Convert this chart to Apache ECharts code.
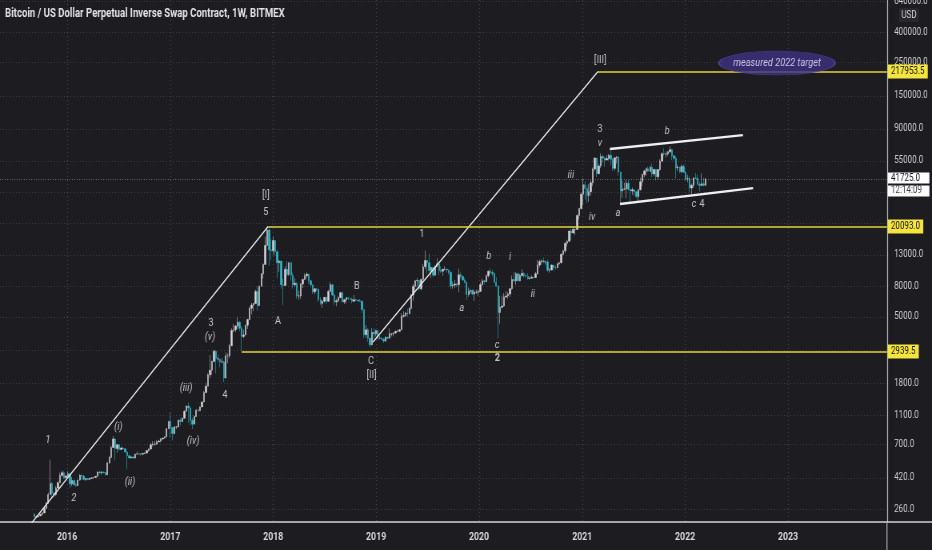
<!DOCTYPE html>
<html>
<head>
<meta charset="utf-8">
<script src="https://cdn.jsdelivr.net/npm/echarts@6.0.0/dist/echarts.min.js"></script>
<style>
html,body{margin:0;padding:0;background:#1d1d21;overflow:hidden;width:932px;height:550px;}
#c{width:1165px;height:550px;transform:scaleX(0.8);transform-origin:0 0;}
</style>
</head>
<body>
<div id="c"></div>
<script>
// ---------------- DATA ----------------
const chartTitle = 'Bitcoin / US Dollar Perpetual Inverse Swap Contract, 1W, BITMEX';
const currencyLabel = 'USD';
const countdown = '12:14:09';

// first weekly bar (Monday) of each block below
const yearStarts = ['2015-09-07','2016-01-04','2017-01-02','2018-01-01','2019-01-07','2020-01-06','2021-01-04','2022-01-03'];
const firstOpen = 240;
// weekly candles: [close, low, high]  (open = previous close)
const w2015 = [
[231,228,245],[231,226,236],[234,228,237],[240,235,242],
[245,236,248],[262,244,270],[284,262,290],[325,282,335],
[385,325,555],[332,305,395],[325,312,340],[360,318,370],[390,355,400],
[435,390,455],[455,430,470],[420,415,465],[433,418,438]];
const w2016 = [
[448,425,465],[383,360,452],[403,370,425],[378,372,408],
[373,365,390],[406,370,408],[437,402,445],[432,410,440],[410,405,440],
[416,400,420],[410,405,418],[417,405,420],[420,412,424],
[423,415,425],[430,420,432],[460,428,462],[455,445,468],
[460,440,465],[456,449,462],[440,435,458],[530,438,532],[575,520,590],
[670,570,690],[765,665,800],[660,550,775],[700,620,705],
[650,640,705],[665,645,680],[657,650,675],[625,620,660],
[590,480,630],[570,565,600],[580,565,590],[570,565,590],[605,565,612],
[608,600,630],[608,600,612],[605,590,612],[612,600,615],
[615,605,620],[640,612,645],[655,628,660],[700,650,720],[705,680,740],
[705,690,740],[730,700,750],[740,730,755],[765,725,775],
[775,755,780],[790,770,795],[895,790,900],[1000,890,1000]];
const w2017 = [
[910,780,1150],[830,750,910],[920,820,930],[920,890,930],[1020,915,1030],
[1000,940,1060],[1050,995,1060],[1170,1050,1190],[1270,1170,1280],
[1230,980,1330],[1020,940,1260],[960,890,1060],[1080,960,1100],
[1190,1070,1210],[1180,1160,1220],[1250,1180,1260],[1350,1250,1360],
[1560,1350,1600],[1720,1550,1800],[2050,1720,2100],[2200,1950,2780],[2520,2050,2550],
[2950,2500,3000],[2650,2100,2980],[2600,2500,2800],[2500,2300,2600],
[2500,2450,2650],[1950,1830,2550],[2750,1950,2900],[2750,2450,2850],[3200,2650,3300],
[4050,3200,4200],[4100,3950,4480],[4350,3950,4400],[4600,4150,4980],
[4200,4000,4700],[3700,2970,4350],[3780,3600,4100],[4400,3800,4400],
[4800,4150,4850],[5700,4800,5850],[6000,5200,6200],[6150,5450,6200],[7400,6100,7600],
[5950,5500,7900],[8000,5900,8100],[9700,8000,9800],[11200,9000,11400],
[15000,11200,17200],[19000,15000,20000],[14000,11000,19500],[13800,12000,16500]];
const w2018 = [
[16200,13000,17200],[13600,12800,16300],[11500,9100,14100],[11800,10000,12000],[8200,7700,11800],
[8100,6000,9000],[10400,8100,10900],[9600,9300,11800],[11500,9400,11600],
[9500,8700,11700],[8200,7700,9900],[8400,7900,9100],[6900,6600,8500],
[6900,6500,7500],[8300,6600,8400],[8900,7800,9000],[9400,8800,9750],[9650,9000,9900],
[8700,8300,9650],[8200,7900,8800],[7350,7100,8200],[7700,7100,7750],
[7650,7400,7800],[6500,6300,7600],[6150,6000,6800],[6350,5750,6450],
[6750,6250,6800],[6350,6100,6800],[7400,6300,7600],[8200,7400,8500],[7000,6900,8250],
[6300,6000,7150],[6400,5880,6600],[6700,6250,6900],[7250,6700,7350],
[6300,6200,7400],[6500,6100,6600],[6700,6150,6800],[6620,6450,6800],
[6580,6500,6700],[6350,6150,6700],[6500,6350,7000],[6480,6400,6600],[6400,6300,6500],
[6350,6300,6600],[5600,5300,6450],[3800,3600,5600],[4100,3600,4400],
[3600,3400,4200],[3250,3130,3600],[3950,3250,4200],[3850,3550,4200],[4050,3700,4100]];
const w2019 = [
[3600,3500,4100],[3600,3550,3750],[3550,3500,3650],[3450,3350,3600],
[3650,3400,3700],[3600,3550,3700],[3850,3650,4200],[3850,3700,3900],
[3900,3700,3950],[4000,3850,4050],[4000,3950,4100],[4100,3950,4150],
[5050,4100,5300],[5100,4950,5450],[5300,5000,5400],[5250,5000,5650],[5700,5200,5800],
[7000,5600,7100],[8000,6400,8300],[8700,7500,8800],[8750,8000,9100],
[7700,7500,8800],[8900,7500,9000],[10800,8900,11300],[11900,10400,13900],
[11500,9700,12000],[10200,9900,13200],[10700,9100,10800],[9500,9200,10600],[10800,9400,11100],
[11300,10900,12300],[10200,9500,11500],[10100,9800,10900],[10400,9400,10500],
[10400,10200,10900],[10300,9900,10500],[9900,9600,10300],[8050,7700,10100],[8150,7700,8600],
[8300,7800,8800],[8200,7900,8400],[9550,7300,10500],[9300,9000,9900],
[8800,8700,9500],[8500,8400,9100],[7050,6500,8600],[7400,6800,7850],
[7500,7100,7700],[7100,7000,7650],[7300,6400,7550],[7300,7100,7600],[7400,6900,7600]];
const w2020 = [
[8200,7700,8500],[8700,8100,9000],[8600,8250,8800],[9400,8550,9600],
[10100,9150,10200],[9900,9700,10500],[9700,9300,10300],[8500,8500,9950],
[8000,8000,9200],[5350,3600,8150],[5800,4500,6900],[5900,5700,6950],[6800,5850,7200],
[6900,6700,7450],[7100,6600,7300],[7700,6800,7800],[8900,7600,9450],
[8700,8600,10000],[9700,8200,9950],[8700,8700,9900],[9450,8650,9700],
[9750,9300,10400],[9450,9100,9950],[9300,9200,9600],[9000,8850,9800],[9070,8900,9300],
[9200,9050,9450],[9150,9000,9250],[9700,9100,10000],[11100,9600,12000],
[11700,10700,12050],[11850,11150,12100],[11650,11400,12450],[11650,11150,11800],[10250,10000,12050],
[10300,9850,10600],[11100,10200,11200],[10700,10150,11000],[10650,10350,11000],
[11300,10550,11450],[11500,11150,11700],[13100,11400,13250],[13800,12900,14050],
[15500,13300,15900],[16000,14800,16400],[18700,15800,18900],[18200,16300,19400],[19200,18000,19900],
[19200,17600,19400],[23800,19000,24200],[26500,22400,26800],[33000,26000,34000]];
const w2021 = [
[38200,28000,42000],[36000,30300,40100],[32300,28800,37800],[34300,29300,38500],
[39300,32300,40900],[48600,37300,49700],[57500,47000,58300],[45200,43000,57500],
[51000,45000,52600],[59000,49300,61800],[57500,53300,60600],[55800,50400,58400],[57100,55500,60200],
[60000,55500,61200],[56500,51500,64800],[49100,47000,57500],[57800,47500,58400],
[58200,52900,59500],[46500,43800,59400],[34700,28500,46600],[35700,31200,40800],[35800,35000,39400],
[39100,31000,40900],[35600,34800,41300],[34700,28800,35600],[35300,32700,36600],
[34300,32100,35100],[31800,31100,34600],[35400,29300,35400],[39900,34800,42600],
[44600,37400,45300],[47100,42800,48100],[48900,43900,49600],[47000,46400,50500],[49900,46500,51000],
[45100,43000,52900],[48300,43500,48800],[43200,40800,47300],[48200,41000,48400],
[55000,47200,56500],[61500,53900,62900],[61300,59500,67000],[61300,58000,63700],
[63300,59500,64200],[65500,62300,69000],[59700,55700,66200],[57300,55300,59500],[49400,42000,59200],
[50100,47200,51900],[46700,45600,50400],[50800,45600,52000],[46300,45600,52000]];
const w2022 = [
[41800,40500,47600],[41900,39600,44500],[36300,34000,43500],[37900,32900,38800],[42400,36300,42600],
[42200,41800,45800],[38400,38000,44700],[37700,34400,39800],[38800,37400,45400],
[37800,37200,42500],[41725,37600,42300]];
const weeklyBlocks = [w2015,w2016,w2017,w2018,w2019,w2020,w2021,w2022];

// axes
const xMin = '2015-05-08', xMax = '2023-12-18';
const yMin = 213, yMax = 654700;
const yearTicks = ['2016-01-01','2017-01-01','2018-01-01','2019-01-01','2020-01-01','2021-01-01','2022-01-01','2023-01-01'];
const priceTicks = [260,420,700,1100,1800,3000,5000,8000,13000,21000,34000,55000,90000,150000,250000,400000,640000];
const priceTickLabels = ['260.0','420.0','700.0','1100.0','1800.0','','5000.0','8000.0','13000.0','','','55000.0','90000.0','150000.0','250000.0','400000.0','640000.0'];

// drawings (data coordinates: date, price)
const levelStarts = ['2021-02-26','2017-12-14','2017-09-11'];
const levelValues = [217953.5, 20093.0, 2939.5];
const trendLines = [
  [['2015-08-24',205],['2017-12-14',20093]],
  [['2018-12-21',3400],['2021-02-26',217953.5]]
];
const channelLines = [
  [['2021-04-09',66150],['2022-07-25',82000]],
  [['2021-05-15',28380],['2022-08-30',36290]]
];
const waveItalic = [
  ['2015-10-25',750,'1'],['2016-01-25',308,'2'],
  ['2016-07-01',922,'(i)'],['2016-08-11',396,'(ii)'],
  ['2017-02-26',1673,'(iii)'],['2017-03-23',740,'(iv)'],['2017-05-22',3665,'(v)'],
  ['2019-11-01',5730,'a'],['2020-02-05',12750,'b'],['2020-03-05',3242,'c'],
  ['2020-04-20',12560,'i'],['2020-07-10',7105,'ii'],['2020-11-22',44330,'iii'],
  ['2021-02-05',23230,'iv'],['2021-03-05',72530,'v'],
  ['2021-05-08',24710,'a'],['2021-10-29',87240,'b'],['2022-02-01',28380,'c']
];
const waveUpright = [
  ['2017-05-25',4548,'3'],['2017-07-14',1502,'4'],
  ['2017-12-06',32600,'[I]'],['2017-12-06',25090,'5'],
  ['2018-01-18',4690,'A'],['2018-10-25',8040,'B'],['2018-12-14',2535,'C'],['2018-12-16',2043,'[II]'],
  ['2019-06-13',17880,'1'],['2021-03-05',89950,'3'],['2021-03-06',260000,'[III]'],
  ['2022-03-02',28380,'4']
];
const waveBold = [['2020-03-06',2655,'2']];
const targetNote = [['2022-11-23',248300,'measured 2022 target']];

// ---------------- BUILD ----------------
const SX = 0.8;                 // horizontal squeeze applied to the whole canvas (CSS)
const px = v => v / SX;         // screen px -> canvas px (horizontal)
const ts = s => new Date(s + 'T00:00:00').getTime();
const pt = p => [ts(p[0]), p[1]];
const lbl = p => [ts(p[0]), p[1], p[2]];

const candles = [];
let prevClose = firstOpen;
weeklyBlocks.forEach((block, bi) => {
  const start = ts(yearStarts[bi]);
  block.forEach((w, i) => {
    const t = start + i * 7 * 86400000;
    const o = prevClose, c = w[0];
    candles.push([t, o, c, Math.min(w[1], o, c), Math.max(w[2], o, c)]);
    prevClose = c;
  });
});
const lastPrice = candles[candles.length - 1][2];

const font = 'Roboto';
const gridColor = 'rgba(150,150,160,0.32)';
const upColor = '#d8d8dc', downColor = '#2fc3d5';

const lineSeries = (pts, width) => ({
  type: 'line', data: pts.map(pt), symbol: 'none', silent: true, z: 4,
  lineStyle: { color: '#efefef', width: width }, animation: false
});

const levelMarks = levelValues.map((v, i) => [
  { coord: [ts(levelStarts[i]), v],
    lineStyle: { color: '#e4d33a', width: 1.6, type: 'solid' },
    label: { show: true, position: 'end', distance: 1, formatter: v.toFixed(1),
      backgroundColor: '#f4e43e', color: '#16161a', padding: [2, 4, 2, 4],
      fontSize: 10, fontFamily: font } },
  { coord: [ts(xMax), v] }
]);
levelMarks.push([
  { coord: [ts(xMin), lastPrice],
    lineStyle: { color: 'rgba(190,190,200,0.5)', width: 1, type: [1, 2] },
    label: { show: true, position: 'end', distance: 1,
      formatter: '{s| }\n{a|' + lastPrice.toFixed(1) + '}\n{b|' + countdown + '}',
      rich: {
        s: { height: 11, lineHeight: 11, fontSize: 10 },
        a: { backgroundColor: '#ffffff', color: '#131722', width: 46, padding: [1, 2, 0, 4], lineHeight: 13, fontSize: 10, fontFamily: font },
        b: { backgroundColor: '#ffffff', color: '#3a3d46', width: 46, padding: [0, 2, 1, 4], lineHeight: 13, fontSize: 10, fontFamily: font }
      } } },
  { coord: [ts(xMax), lastPrice] }
]);

const waveSeries = (items, style, weight) => ({
  type: 'scatter', data: items.map(lbl), encode: { x: 0, y: 1 }, symbolSize: 1, silent: true, z: 6,
  itemStyle: { color: 'rgba(0,0,0,0)' },
  label: { show: true, position: 'inside', formatter: p => p.value[2],
    color: '#e8e8ea', fontSize: 11.5, fontStyle: style, fontWeight: weight, fontFamily: font },
  animation: false
});

const yTickLog = priceTicks.map(v => Math.log10(v));
const xTickVals = yearTicks.map(ts);

const option = {
  backgroundColor: '#1d1d21',
  animation: false,
  grid: { left: 0, right: px(45), top: 0, bottom: 28, containLabel: false, outerBoundsMode: 'none' },
  xAxis: {
    type: 'value', min: ts(xMin), max: ts(xMax), scale: true,
    axisLine: { show: true, lineStyle: { color: '#d2d3d7', width: 1.5 } },
    axisTick: { show: false, customValues: xTickVals },
    axisLabel: { customValues: xTickVals, formatter: v => String(new Date(v).getFullYear()),
      color: '#d8d9dd', fontSize: 11, fontWeight: 'bold', margin: 10, fontFamily: font },
    splitLine: { show: true, lineStyle: { color: gridColor, type: [1, 3], width: 1.2 } }
  },
  yAxis: [
    { type: 'log', min: yMin, max: yMax, show: false, position: 'right' },
    { type: 'value', position: 'right',
      min: Math.log10(yMin), max: Math.log10(yMax),
      axisLine: { show: true, lineStyle: { color: '#b4b5ba', width: 1.2 } },
      axisTick: { show: false, customValues: yTickLog },
      axisLabel: { customValues: yTickLog, margin: 9, color: '#cdced2', fontSize: 10, fontFamily: font,
        formatter: v => { const i = yTickLog.findIndex(t => Math.abs(t - v) < 1e-6); return i >= 0 ? priceTickLabels[i] : ''; } },
      splitLine: { show: true, lineStyle: { color: gridColor, type: [1, 3], width: 1 } }
    }
  ],
  series: [
    { type: 'candlestick', name: 'XBTUSD', data: candles, encode: { x: 0, y: [1, 2, 3, 4] },
      xAxisIndex: 0, yAxisIndex: 0, barWidth: 1.9, z: 3, silent: true,
      itemStyle: { color: upColor, color0: downColor, borderColor: upColor, borderColor0: downColor, borderWidth: 0.5 } },
    { type: 'line', data: [], yAxisIndex: 0, silent: true, z: 2,
      markLine: { symbol: ['none', 'none'], silent: true, animation: false, data: levelMarks } },
    ...trendLines.map(p => lineSeries(p, 1.3)),
    ...channelLines.map(p => lineSeries(p, 2.3)),
    waveSeries(waveItalic, 'italic', 'normal'),
    waveSeries(waveUpright, 'normal', 'normal'),
    waveSeries(waveBold, 'normal', 'bold'),
    { type: 'scatter', data: targetNote.map(lbl), encode: { x: 0, y: 1 }, symbol: 'circle', symbolSize: [px(116), 24],
      silent: true, z: 7,
      itemStyle: { color: '#3d3182', borderColor: '#51449f', borderWidth: 1 },
      label: { show: true, position: 'inside', formatter: p => p.value[2], color: '#ebe8ff',
        fontSize: 11.5, fontStyle: 'italic', fontFamily: font } }
  ],
  graphic: [
    { type: 'text', left: px(5), top: 8, z: 100,
      style: { text: chartTitle, fill: '#e2e3e6', fontSize: 12, fontWeight: 'bold', fontFamily: font } },
    { type: 'text', x: px(909), y: 15, z: 100,
      style: { text: currencyLabel, fill: '#d4d5d9', fontSize: 10, fontFamily: font,
        align: 'center', verticalAlign: 'middle', backgroundColor: '#27272c', padding: [2, 3] } },
    { type: 'line', z: 100, shape: { x1: px(887), y1: 522, x2: px(932), y2: 522 }, style: { stroke: '#d2d3d7', lineWidth: 1.5 } },
    { type: 'line', z: 100, shape: { x1: px(887), y1: 522, x2: px(887), y2: 550 }, style: { stroke: '#b4b5ba', lineWidth: 1.2 } }
  ]
};

const chart = echarts.init(document.getElementById('c'));
chart.setOption(option);
</script>
</body>
</html>
